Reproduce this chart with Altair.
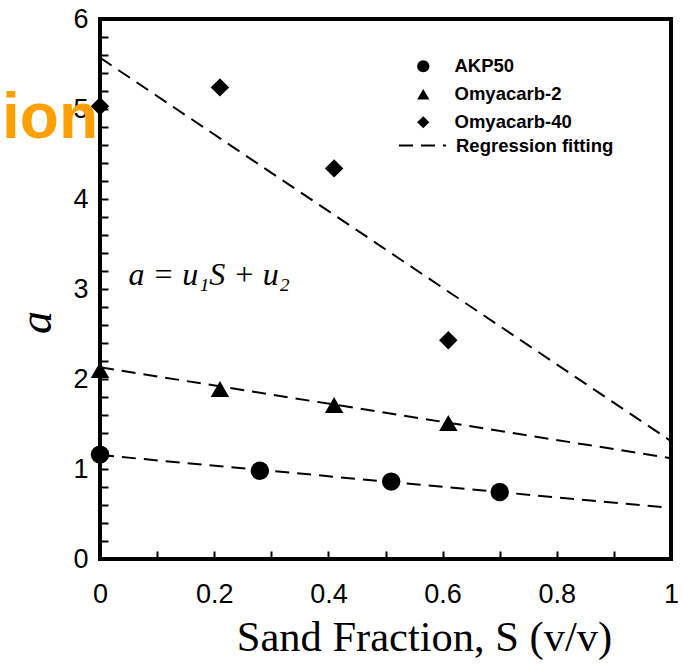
import altair as alt
import pandas as pd

series = ["AKP50", "Omyacarb-2", "Omyacarb-40"]
shapes = ["circle", "triangle-up", "diamond"]

akp_x = [0.0, 0.28, 0.51, 0.70]
akp_y = [1.16, 0.98, 0.86, 0.745]
om2_x = [0.0, 0.21, 0.41, 0.61]
om2_y = [2.10, 1.89, 1.71, 1.51]
om40_x = [0.0, 0.21, 0.41, 0.61]
om40_y = [5.03, 5.24, 4.34, 2.43]

fit_x = [0.0, 1.0]
akp_fit = [1.155, 0.567]
om2_fit = [2.13, 1.12]
om40_fit = [5.57, 1.31]
fit_label = "Regression fitting"

x_label_vals = [0, 0.2, 0.4, 0.6, 0.8, 1.0]
x_tick_vals = [0, 0.1, 0.2, 0.3, 0.4, 0.5, 0.6, 0.7, 0.8, 0.9, 1.0]
y_label_vals = [0, 1, 2, 3, 4, 5, 6]
y_tick_vals = [0, 0.2, 0.4, 0.6, 0.8, 1, 1.2, 1.4, 1.6, 1.8, 2, 2.2, 2.4, 2.6, 2.8, 3,
               3.2, 3.4, 3.6, 3.8, 4, 4.2, 4.4, 4.6, 4.8, 5, 5.2, 5.4, 5.6, 5.8, 6]
frame_x = [0, 1, 1, 0, 0]
frame_y = [0, 0, 6, 6, 0]

equation = "a = u\u2081S + u\u2082"
stray_text = "ion"

pts = pd.DataFrame({
    "series": [series[0]] * 4 + [series[1]] * 4 + [series[2]] * 4,
    "x": akp_x + om2_x + om40_x,
    "y": akp_y + om2_y + om40_y,
})
fits = pd.DataFrame({
    "series": [series[0]] * 2 + [series[1]] * 2 + [series[2]] * 2,
    "x": fit_x * 3,
    "y": akp_fit + om2_fit + om40_fit,
    "kind": [fit_label] * 6,
})
frame_df = pd.DataFrame({"x": frame_x, "y": frame_y, "o": list(range(len(frame_x)))})
eq_df = pd.DataFrame({"x": [0.05], "y": [3.05], "t": [equation]})
stray_df = pd.DataFrame({"t": [stray_text]})

W, H = 571, 540
SANS = "Liberation Sans"
SERIF = "Liberation Serif"

xs = alt.Scale(domain=[0, 1], nice=False, zero=False)
ys = alt.Scale(domain=[0, 6], nice=False, zero=False)

frame = alt.Chart(frame_df).mark_line(color="#000000", strokeWidth=4, strokeCap="square",
                                      opacity=1).encode(
    x=alt.X("x:Q", scale=xs, axis=None),
    y=alt.Y("y:Q", scale=ys, axis=None),
    order="o:Q",
)

lines = alt.Chart(fits).mark_line(color="black", strokeWidth=2).encode(
    x=alt.X("x:Q", scale=xs, axis=alt.Axis(
        orient="top", offset=-H, values=x_tick_vals, labels=False, domain=False,
        ticks=True, tickSize=8, tickWidth=2, tickColor="black", grid=False, title=None)),
    y=alt.Y("y:Q", scale=ys, axis=alt.Axis(
        orient="right", offset=-W, values=y_tick_vals, labels=False, domain=False,
        ticks=True, tickSize=8, tickWidth=2, tickColor="black", grid=False, title=None)),
    detail="series:N",
    strokeDash=alt.StrokeDash("kind:N", scale=alt.Scale(domain=[fit_label], range=[[14, 8]]),
        legend=alt.Legend(orient="none", legendX=298, legendY=102, title=None,
                          labelFont=SANS, labelFontSize=18.5, labelFontWeight="bold",
                          labelColor="black", symbolType="stroke", symbolSize=2209,
                          symbolStrokeWidth=2, symbolStrokeColor="black", labelOffset=9)),
)

points = alt.Chart(pts).mark_point(filled=True, color="black", size=340, opacity=1).encode(
    x=alt.X("x:Q", scale=xs, axis=alt.Axis(
        values=x_label_vals, format="~g", ticks=False, domain=False, grid=False,
        labelFlush=False,
        labelFont=SANS, labelFontSize=27, labelColor="black", labelPadding=22,
        title="Sand Fraction, S (v/v)", titleFont=SERIF, titleFontSize=42.5,
        titleFontWeight="normal", titleColor="black", titleX=324, titleY=91,
        titleAlign="center", titleBaseline="alphabetic")),
    y=alt.Y("y:Q", scale=ys, axis=alt.Axis(
        values=y_label_vals, ticks=False, domain=False, grid=False, labelFlush=False,
        labelFont=SANS, labelFontSize=27, labelColor="black", labelPadding=12,
        title="a", titleFont=SERIF, titleFontSize=46, titleFontStyle="italic",
        titleFontWeight="normal", titleColor="black", titleAngle=270,
        titleX=-64, titleY=303, titleAlign="center", titleBaseline="middle")),
    shape=alt.Shape("series:N", scale=alt.Scale(domain=series, range=shapes),
        legend=alt.Legend(orient="none", legendX=314, legendY=38, title=None,
                          labelFont=SANS, labelFontSize=18.5, labelFontWeight="bold",
                          labelColor="black", symbolSize=150, symbolFillColor="black",
                          symbolStrokeWidth=0, labelOffset=22, rowPadding=9)),
)

eq = alt.Chart(eq_df).mark_text(font=SERIF, fontSize=32, fontStyle="italic",
                                align="left", baseline="alphabetic", color="black").encode(
    x=alt.X("x:Q", scale=xs, axis=None),
    y=alt.Y("y:Q", scale=ys, axis=None),
    text="t:N",
)

stray = alt.Chart(stray_df).mark_text(font=SANS, fontSize=64, fontWeight="bold",
                                      align="left", baseline="alphabetic",
                                      color="#FFA000").encode(
    x=alt.value(-98), y=alt.value(119), text="t:N",
)

chart = alt.layer(frame, lines, points, eq, stray).resolve_axis(
    x="independent", y="independent"
).resolve_legend(shape="independent", strokeDash="independent").properties(
    width=W, height=H,
    background="white",
    autosize=alt.AutoSizeParams(type="none"),
    padding={"left": 100, "top": 19, "right": 12, "bottom": 105},
).configure_view(stroke=None)

chart.save("out.html", embed_options={"renderer": "svg", "actions": False})
